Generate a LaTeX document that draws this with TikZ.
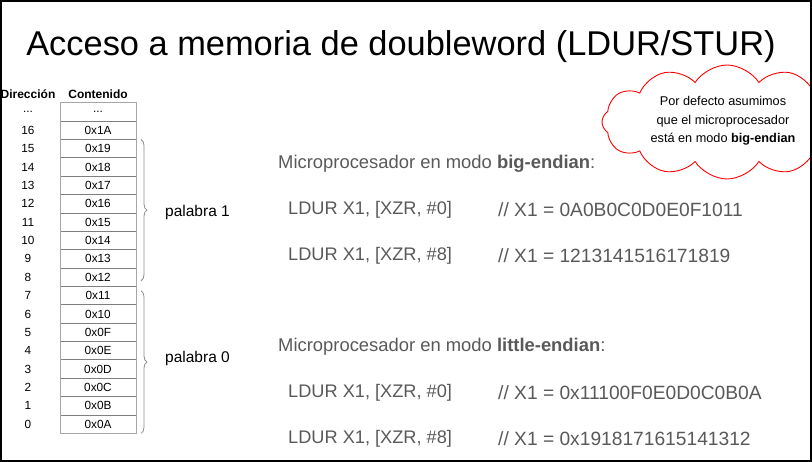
\documentclass[tikz,border=0pt]{standalone}
\usepackage{fontspec}
\setmainfont{Liberation Sans}
\usetikzlibrary{shapes.symbols,decorations.pathreplacing}
\definecolor{textgray}{HTML}{595959}
\definecolor{cellline}{HTML}{7F7F7F}
\definecolor{celledge}{HTML}{A6A6A6}
\definecolor{bracegray}{HTML}{8C8C8C}
\definecolor{cloudred}{HTML}{FF0000}
\begin{document}
\begin{tikzpicture}[x=1pt,y=-1pt,
  cell/.style={draw=cellline, line width=0.8pt, minimum width=76pt,
    minimum height=18.37pt, inner sep=0pt, outer sep=0pt, anchor=north west,
    font=\fontsize{11.8}{14}\selectfont},
  addr/.style={font=\fontsize{11.8}{14}\selectfont, inner sep=0pt},
  hdr/.style={font=\bfseries\fontsize{12}{14}\selectfont, inner sep=0pt},
  wordbrace/.style={draw=bracegray, line width=0.8pt, decorate,
    decoration={brace, amplitude=6pt}},
  wordlabel/.style={font=\fontsize{15.5}{18}\selectfont, inner sep=0pt, anchor=west},
  heading/.style={font=\fontsize{18.4}{21}\selectfont, text=textgray, inner sep=0pt, anchor=west},
  code/.style={font=\fontsize{18.2}{21}\selectfont, text=textgray, inner sep=0pt, anchor=west},
  result/.style={font=\fontsize{19.2}{22}\selectfont, text=textgray, inner sep=0pt, anchor=west},
]
\useasboundingbox (0,0) rectangle (812,462);
\begin{scope}
\clip (0,0) rectangle (812,462);

% title
\node[font=\fontsize{34.4}{40}\selectfont, inner sep=0pt] (title) at (401,47)
  {Acceso a memoria de doubleword (LDUR/STUR)};

% memory table
\node[hdr] (hdir) at (28,94) {Dirección};
\node[hdr] (hcon) at (98,94) {Contenido};
\node[cell] (c0) at (60,102.7) {...};
\node[addr] (a0) at (28,{102.7+9.18}) {...};
\foreach \i/\a/\c in {1/16/0x1A, 2/15/0x19, 3/14/0x18, 4/13/0x17, 5/12/0x16,
    6/11/0x15, 7/10/0x14, 8/9/0x13, 9/8/0x12, 10/7/0x11, 11/6/0x10, 12/5/0x0F,
    13/4/0x0E, 14/3/0x0D, 15/2/0x0C, 16/1/0x0B, 17/0/0x0A} {
  \node[cell] (c\i) at (60,{102.7+18.37*\i}) {\c};
  \node[addr] (a\i) at (28,{102.7+18.37*\i+9.18}) {\a};
}
\draw[celledge, line width=0.9pt] (c0.north west) rectangle (c17.south east);

% word braces
\draw[wordbrace] ([xshift=5pt]c2.north east) -- ([xshift=5pt,yshift=5.6pt]c9.south east)
  coordinate[midway] (b1);
\draw[wordbrace] ([xshift=5pt,yshift=-4.4pt]c10.north east) -- ([xshift=5pt]c17.south east)
  coordinate[midway] (b0);
\node[wordlabel] (w1) at (165,212) {palabra 1};
\node[wordlabel] (w0) at (165,358) {palabra 0};

% big-endian example
\node[heading] (hbig) at (278,164) {Microprocesador en modo \textbf{big-endian}:};
\node[code] (lb0) at (288,210) {LDUR X1, [XZR, \#0]};
\node[result] (rb0) at (498,210) {// X1 = 0A0B0C0D0E0F1011};
\node[code] (lb8) at (288,256) {LDUR X1, [XZR, \#8]};
\node[result] (rb8) at (498,256) {// X1 = 1213141516171819};

% little-endian example
\node[heading] (hlit) at (278,347) {Microprocesador en modo \textbf{little-endian}:};
\node[code] (ll0) at (288,393) {LDUR X1, [XZR, \#0]};
\node[result] (rl0) at (498,393) {// X1 = 0x11100F0E0D0C0B0A};
\node[code] (ll8) at (288,439) {LDUR X1, [XZR, \#8]};
\node[result] (rl8) at (498,439) {// X1 = 0x1918171615141312};

% note cloud
\node[cloud, cloud ignores aspect, draw=cloudred, fill=white, line width=0.9pt,
  cloud puffs=12, cloud puff arc=115, minimum width=250pt, minimum height=114pt,
  inner sep=0pt] (note) at (727,122) {};
\node[font=\fontsize{12.7}{18.3}\selectfont, align=center, inner sep=0pt]
  (notetext) at (723,121)
  {Por defecto asumimos\\que el microprocesador\\está en modo \textbf{big-endian}};
\end{scope}

% frame
\draw[line width=2pt] (1,1) rectangle (811,461);
\end{tikzpicture}
\end{document}
